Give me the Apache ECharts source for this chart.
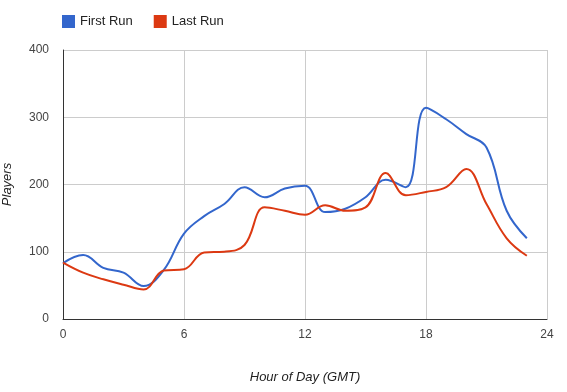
<!DOCTYPE html>
<html>
<head>
<meta charset="utf-8">
<script src="https://cdn.jsdelivr.net/npm/echarts@6/dist/echarts.min.js"></script>
<style>
html,body{margin:0;padding:0;background:#fff;}
#chart{width:567px;height:392px;}
</style>
</head>
<body>
<div id="chart"></div>
<script>
var hours = [0,1,2,3,4,5,6,7,8,9,10,11,12,13,14,15,16,17,18,19,20,21,22,23];
var firstRun = [83,95,76,69,49,73,127,153,171,196,181,194,198,159,164,181,207,196,314,297,275,255,161,120];
var lastRun = [84,69,59,51,44,72,74,99,100,110,166,161,155,169,161,166,217,184,189,196,223,171,120,94];
var seriesNames = ['First Run','Last Run'];

function pairs(vals){ return hours.map(function(h,i){ return [h, vals[i]]; }); }

var chart = echarts.init(document.getElementById('chart'), null, {renderer:'canvas'});
var font = 'Arial, "Liberation Sans", sans-serif';
chart.setOption({
  animation:false,
  color:['#3366cc','#dc3912'],
  textStyle:{fontFamily:font},
  legend:{
    left:62, top:15, padding:0, icon:'rect', itemWidth:13, itemHeight:13, itemGap:21,
    textStyle:{fontSize:13, color:'#222', fontFamily:font},
    data:seriesNames
  },
  grid:{left:63, right:20, top:50, bottom:73, containLabel:false, outerBoundsMode:'none'},
  xAxis:{
    type:'value', min:0, max:24, interval:6,
    name:'Hour of Day (GMT)', nameLocation:'middle', nameGap:52,
    nameTextStyle:{fontStyle:'italic', fontSize:13, color:'#222', fontFamily:font},
    axisLine:{show:true, lineStyle:{color:'#333', width:1}},
    axisTick:{show:false},
    axisLabel:{color:'#444', fontSize:12, margin:10, fontFamily:font},
    splitLine:{show:true, lineStyle:{color:'#cccccc'}}
  },
  yAxis:{
    type:'value', min:0, max:400, interval:100,
    name:'Players', nameLocation:'middle', nameGap:49,
    nameTextStyle:{fontStyle:'italic', fontSize:13, color:'#222', fontFamily:font},
    axisLine:{show:true, lineStyle:{color:'#333', width:1}},
    axisTick:{show:false},
    axisLabel:{color:'#444', fontSize:12, margin:14, fontFamily:font},
    splitLine:{show:true, lineStyle:{color:'#cccccc'}}
  },
  series:[
    {name:seriesNames[0], type:'line', data:pairs(firstRun), smooth:0.4, showSymbol:false, symbol:'none', lineStyle:{width:2}},
    {name:seriesNames[1], type:'line', data:pairs(lastRun), smooth:0.4, showSymbol:false, symbol:'none', lineStyle:{width:2}}
  ]
});
</script>
</body>
</html>
